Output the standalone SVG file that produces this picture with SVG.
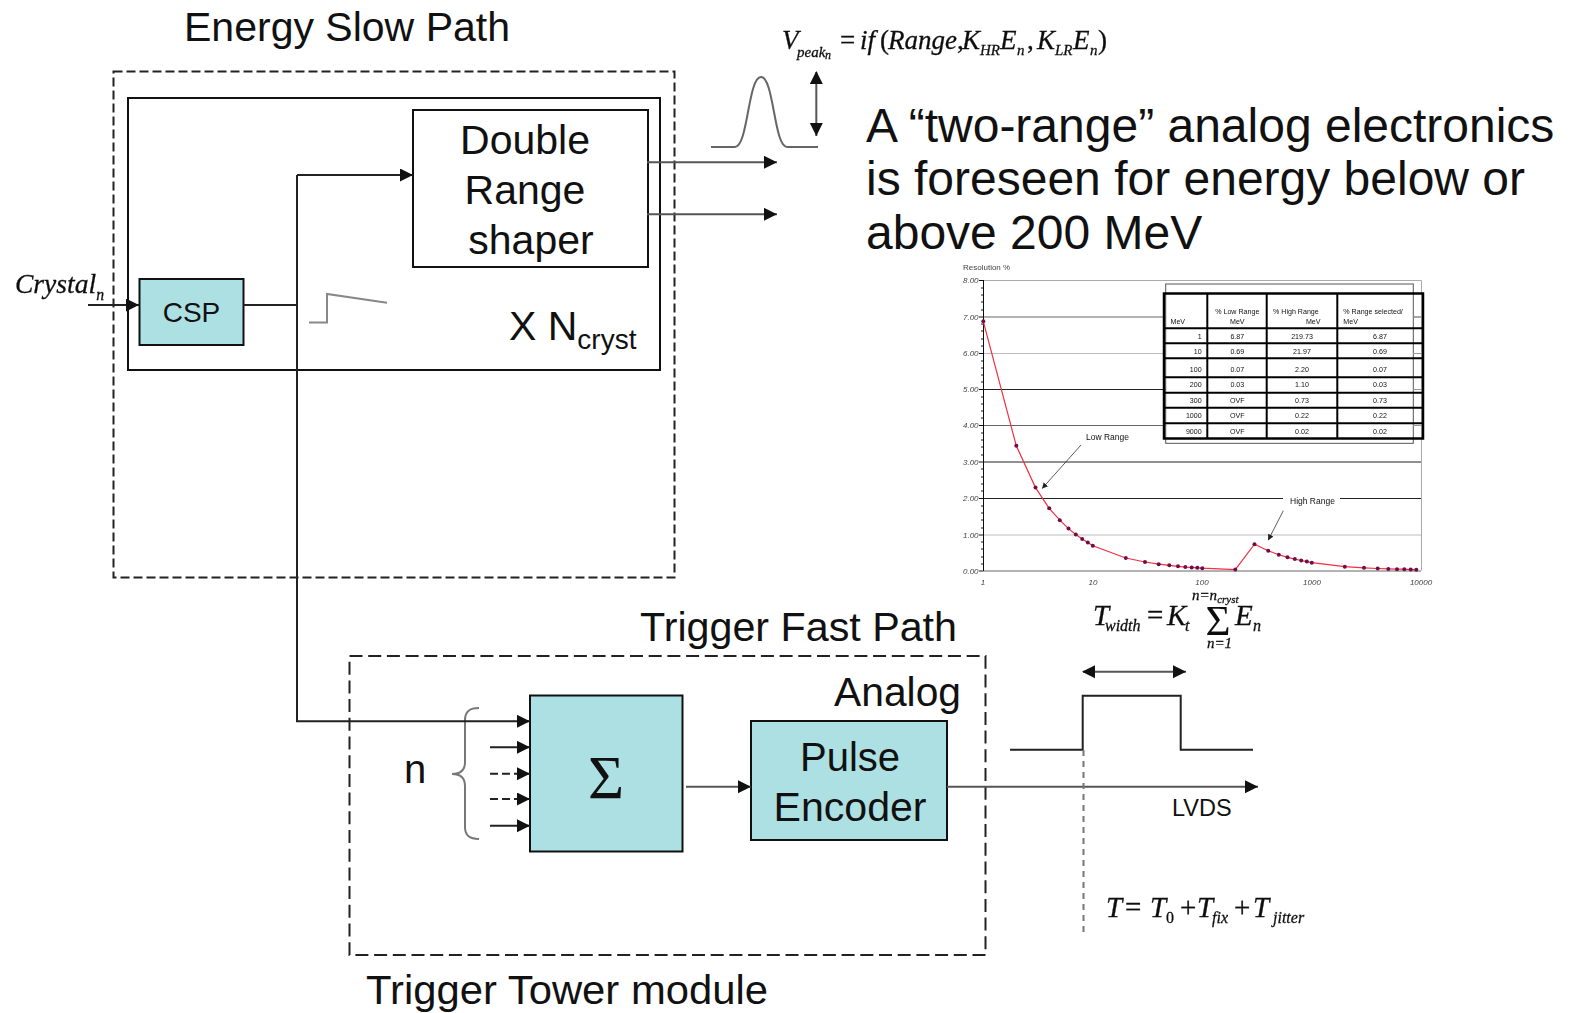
<svg xmlns="http://www.w3.org/2000/svg" width="1577" height="1013" viewBox="0 0 1577 1013">
<style>
text{font-family:"Liberation Sans",Arial,sans-serif;fill:#111}
.h{font-size:40px}
.m{font-family:"Liberation Serif","Times New Roman",serif;font-style:italic;stroke:#111;stroke-width:.3px}
.u{font-style:normal}
.box{fill:#ade0e3;stroke:#111;stroke-width:2}
.w{fill:none;stroke:#111;stroke-width:2}
.d{fill:none;stroke:#222;stroke-width:2;stroke-dasharray:9 4}
.d2{fill:none;stroke:#222;stroke-width:2;stroke-dasharray:13 5.700}
.ln{fill:none;stroke:#222;stroke-width:2}
.g{fill:none;stroke:#555;stroke-width:2}
.ar{marker-end:url(#a)}
.t{font-size:7.100px;fill:#111}
.c{text-anchor:middle}
.r{text-anchor:end}
.ax{font-size:8px;fill:#444;font-style:italic}
.tb{fill:none;stroke:#000;stroke-width:2}
</style>
<defs>
<marker id="a" markerWidth="14" markerHeight="14" refX="13" refY="6.500" orient="auto" markerUnits="userSpaceOnUse"><path d="M0 0L13 6.500L0 13z" fill="#111"/></marker>
<marker id="s" markerWidth="14" markerHeight="14" refX="1" refY="6.500" orient="auto" markerUnits="userSpaceOnUse"><path d="M13 0L0 6.500L13 13z" fill="#111"/></marker>
<marker id="p" markerWidth="5" markerHeight="5" refX="2.500" refY="2.500" markerUnits="userSpaceOnUse"><circle cx="2.500" cy="2.500" r="2" fill="#70104a"/></marker>
<marker id="q" markerWidth="6" markerHeight="6" refX="5.500" refY="3" orient="auto" markerUnits="userSpaceOnUse"><path d="M0 0L6 3L0 6z" fill="#222"/></marker>
<filter id="b" x="-2%" y="-2%" width="104%" height="104%"><feGaussianBlur stdDeviation="0.45"/></filter>
<filter id="f" x="-5%" y="-20%" width="110%" height="140%"><feGaussianBlur stdDeviation="0.5"/></filter>
</defs>

<g id="energy-slow-path">
<text class="h" x="184" y="41" textLength="326" lengthAdjust="spacingAndGlyphs">Energy Slow Path</text>
<rect class="d" x="113.500" y="71.500" width="561" height="506"/>
<rect class="w" x="128" y="98" width="532" height="272"/>
<text x="509" y="340" font-size="41">X N<tspan font-size="28" dy="9">cryst</tspan></text>
</g>

<g id="crystal-label" filter="url(#f)"><text class="m" x="15" y="293" font-size="28" textLength="89" lengthAdjust="spacingAndGlyphs">Crystal<tspan font-size="16" dy="7">n</tspan></text></g>
<g id="csp"><rect class="box" x="139.500" y="279" width="104" height="66"/><text x="191.500" y="322" font-size="28" class="c">CSP</text></g>
<g id="shaper"><rect class="w" x="413" y="110" width="235" height="157"/>
<text class="c" font-size="41"><tspan x="525" y="154">Double</tspan><tspan x="525" y="204">Range</tspan><tspan x="531" y="254">shaper</tspan></text></g>

<g id="step-signal"><path d="M309 322.500H327V294L387 302.700" fill="none" stroke="#888" stroke-width="2"/></g>
<g id="peak-signal"><path d="M711 147H735C748 147 748 77 761 77C774 77 774 147 787 147H818" fill="none" stroke="#666" stroke-width="2"/></g>
<g id="peak-formula" filter="url(#f)"><text class="m" y="49" font-size="27"><tspan x="782">V</tspan><tspan x="797" y="57" font-size="15">peak</tspan><tspan x="825" y="59" font-size="12">n</tspan><tspan class="u" x="840" y="49">=</tspan><tspan x="860" y="49">if</tspan><tspan class="u" x="880" y="49">(</tspan><tspan x="888" y="49">Range</tspan><tspan class="u" x="957" y="49">,</tspan><tspan x="962" y="49">K</tspan><tspan x="980" y="55" font-size="15">HR</tspan><tspan x="1000" y="49">E</tspan><tspan x="1017" y="55" font-size="15">n</tspan><tspan class="u" x="1027" y="49">,</tspan><tspan x="1037" y="49">K</tspan><tspan x="1055" y="55" font-size="15">LR</tspan><tspan x="1073" y="49">E</tspan><tspan x="1090" y="55" font-size="15">n</tspan><tspan class="u" x="1098" y="49">)</tspan></text></g>

<g id="description"><text font-size="48"><tspan x="866" y="141.500">A “two-range” analog electronics</tspan><tspan x="866" y="195">is foreseen for energy below or</tspan><tspan x="866" y="248.500">above 200 MeV</tspan></text></g>

<g id="resolution-chart" filter="url(#b)">
<text class="ax" x="963" y="270" style="font-style:normal">Resolution %</text>
<path d="M983.500 280.500H1421.500V570.500" fill="none" stroke="#aaa" stroke-width="1"/>
<path d="M983 317H1421" stroke="#999" stroke-width="1.500"/>
<path d="M983 353.500H1421M983 535H1421" stroke="#bbb" stroke-width="1"/>
<path d="M983 389.500H1421M983 462H1421M983 498.500H1421" stroke="#222" stroke-width="1"/>
<path d="M983 425.500H1421" stroke="#666" stroke-width="1"/>
<path d="M983 571H1421" stroke="#999" stroke-width="1.500"/>
<path d="M983.500 280V571M979 280.500H983M979 317H983M979 353.500H983M979 389.500H983M979 425.500H983M979 462H983M979 498.500H983M979 535H983M979 571H983M981 288H983M981 295H983M981 302H983M981 310H983M981 324H983M981 331H983M981 339H983M981 346H983M981 361H983M981 368H983M981 375H983M981 382H983M981 397H983M981 404H983M981 411H983M981 418H983M981 433H983M981 440H983M981 447H983M981 455H983M981 469H983M981 477H983M981 484H983M981 491H983M981 506H983M981 513H983M981 520H983M981 528H983M981 542H983M981 549H983M981 557H983M981 564H983" stroke="#111" stroke-width="1" fill="none"/>
<g class="ax"><text class="ax" x="963" y="283">8.00</text><text class="ax" x="963" y="320">7.00</text><text class="ax" x="963" y="356">6.00</text><text class="ax" x="963" y="392">5.00</text><text class="ax" x="963" y="428">4.00</text><text class="ax" x="963" y="465">3.00</text><text class="ax" x="963" y="501">2.00</text><text class="ax" x="963" y="538">1.00</text><text class="ax" x="963" y="574">0.00</text>
<text class="ax c" x="983" y="585">1</text><text class="ax c" x="1093" y="585">10</text><text class="ax c" x="1202" y="585">100</text><text class="ax c" x="1312" y="585">1000</text><text class="ax c" x="1421" y="585">10000</text></g>
<polyline fill="none" stroke="#f03040" stroke-width="1.200" marker-start="url(#p)" marker-mid="url(#p)" marker-end="url(#p)" points="983.300,321.300 1016.300,445.800 1035.500,487.600 1049.200,508.300 1059.800,520.200 1068.500,528.600 1075.800,534.400 1082.200,539.100 1087.800,542.400 1092.800,545.700 1125.800,558 1145,562 1158.700,564.200 1169.300,565.300 1178,566.300 1185.300,567.100 1191.700,567.400 1197.300,567.800 1202.300,568.200 1235.300,569.600 1254.500,544.200 1268.200,550.700 1278.800,554.700 1287.500,557.300 1294.800,559.100 1301.200,560.500 1306.800,561.600 1311.800,562.700 1344.800,566.700 1364,567.800 1377.700,568.500 1388.300,568.900 1397,569.200 1404.300,569.200 1410.700,569.600 1416.300,569.700"/>
<rect x="1283" y="495" width="57" height="7" fill="#fff"/>
<text x="1086" y="440" font-size="8.500" fill="#222">Low Range</text>
<text x="1290" y="504" font-size="8.500" fill="#222">High Range</text>
<path d="M1081 445L1042.300 488.300" fill="none" stroke="#333" stroke-width="0.800" marker-end="url(#q)"/>
<path d="M1283.300 510.700L1268.300 540" fill="none" stroke="#333" stroke-width="0.800" marker-end="url(#q)"/>
<rect x="1165.700" y="284" width="247.600" height="159.300" fill="#fff" stroke="#555" stroke-width="1"/>
<path d="M1413 317H1421M1413 353.500H1421M1413 389.500H1421M1413 425.500H1421" stroke="#999" stroke-width="1"/>
<rect class="tb" x="1164" y="293.500" width="259" height="145" style="stroke-width:2.500"/>
<path class="tb" d="M1207.300 293V438M1266.700 293V438M1337.300 293V438M1164 328.300H1423M1164 343.300H1423M1164 358.300H1423M1164 377.300H1423M1164 392.700H1423M1164 407.700H1423M1164 423.300H1423"/>
<text class="t" x="1170.500" y="324">MeV</text>
<text class="t c" x="1237.300" y="313.500">% Low Range</text><text class="t c" x="1237.300" y="323.500">MeV</text>
<text class="t" x="1273" y="313.500">% High Range</text><text class="t r" x="1320.500" y="323.500">MeV</text>
<text class="t" x="1343.300" y="313.500">% Range selected/</text><text class="t" x="1343.300" y="323.500">MeV</text>
<text class="t r" x="1201.700" y="338.500">1</text><text class="t c" x="1237.300" y="338.500">6.87</text><text class="t c" x="1302" y="338.500">219.73</text><text class="t c" x="1380" y="338.500">6.87</text>
<text class="t r" x="1201.700" y="353.700">10</text><text class="t c" x="1237.300" y="353.700">0.69</text><text class="t c" x="1302" y="353.700">21.97</text><text class="t c" x="1380" y="353.700">0.69</text>
<text class="t r" x="1201.700" y="371.700">100</text><text class="t c" x="1237.300" y="371.700">0.07</text><text class="t c" x="1302" y="371.700">2.20</text><text class="t c" x="1380" y="371.700">0.07</text>
<text class="t r" x="1201.700" y="386.700">200</text><text class="t c" x="1237.300" y="386.700">0.03</text><text class="t c" x="1302" y="386.700">1.10</text><text class="t c" x="1380" y="386.700">0.03</text>
<text class="t r" x="1201.700" y="403">300</text><text class="t c" x="1237.300" y="403">OVF</text><text class="t c" x="1302" y="403">0.73</text><text class="t c" x="1380" y="403">0.73</text>
<text class="t r" x="1201.700" y="418">1000</text><text class="t c" x="1237.300" y="418">OVF</text><text class="t c" x="1302" y="418">0.22</text><text class="t c" x="1380" y="418">0.22</text>
<text class="t r" x="1201.700" y="434">9000</text><text class="t c" x="1237.300" y="434">OVF</text><text class="t c" x="1302" y="434">0.02</text><text class="t c" x="1380" y="434">0.02</text>
</g>

<g id="trigger-fast-path">
<text class="h" x="640" y="641" textLength="317" lengthAdjust="spacingAndGlyphs">Trigger Fast Path</text>
<rect class="d2" x="349.500" y="656" width="636" height="299"/>
<text class="h" x="834" y="706" textLength="127" lengthAdjust="spacingAndGlyphs">Analog</text>
<text class="h" x="366" y="1004" textLength="402" lengthAdjust="spacingAndGlyphs">Trigger Tower module</text>
</g>

<g id="n-brace"><text class="h" x="404" y="783">n</text>
<path d="M479 708C470 708 465 711 465 720V762C465 770 460 774 452 774C460 774 465 778 465 786V827C465 836 470 839 479 839" fill="none" stroke="#777" stroke-width="2"/></g>
<g id="sum"><rect class="box" x="530" y="695.500" width="152.500" height="156"/><text x="606" y="798" font-size="62" class="c" style="font-family:'Liberation Serif',serif">Σ</text></g>
<g id="pulse-encoder"><rect class="box" x="751" y="721" width="196" height="119"/>
<text class="c h"><tspan x="850" y="771">Pulse</tspan></text><text class="h" x="773.500" y="821" textLength="153" lengthAdjust="spacingAndGlyphs">Encoder</text></g>

<g id="pulse-width"><path d="M1010 749.700H1082.700V695.700H1180.700V749.700H1253" fill="none" stroke="#222" stroke-width="2"/></g>
<g id="width-formula" filter="url(#f)">
<text class="m" y="625" font-size="29"><tspan x="1093">T</tspan><tspan x="1105" y="631" font-size="16">width</tspan><tspan class="u" x="1147" y="625">=</tspan><tspan x="1167" y="625">K</tspan><tspan x="1185" y="631" font-size="16">t</tspan></text>
<text x="1218" y="635" font-size="43" class="c" style="font-family:'Liberation Serif',serif">Σ</text>
<text class="m" y="625" font-size="29"><tspan x="1235">E</tspan><tspan x="1253" y="631" font-size="16">n</tspan></text>
<text class="m" x="1192" y="600" font-size="15">n=n<tspan font-size="11" dy="3">cryst</tspan></text>
<text class="m" x="1207" y="648" font-size="15">n=1</text>
</g>
<g id="time-formula" filter="url(#f)"><text class="m" y="917" font-size="29"><tspan x="1106">T</tspan><tspan class="u" x="1125">=</tspan><tspan x="1150">T</tspan><tspan class="u" x="1166" y="923" font-size="16">0</tspan><tspan class="u" x="1180" y="917">+</tspan><tspan x="1197">T</tspan><tspan x="1212" y="923" font-size="16">fix</tspan><tspan class="u" x="1234" y="917">+</tspan><tspan x="1253">T</tspan><tspan x="1273" y="923" font-size="16">jitter</tspan></text></g>
<g id="lvds-label"><text x="1172" y="816" font-size="23.500">LVDS</text></g>

<g id="connectors">
<path class="ln ar" d="M88 305H139"/>
<path class="ln" d="M243.500 305H297"/>
<path class="ln ar" d="M297 175H413"/>
<path class="ln ar" d="M297 175V721.300H530"/>
<path class="g ar" d="M647 162.300H777"/>
<path class="g ar" d="M647 214.300H777"/>
<path class="g" d="M816.300 72V136" marker-start="url(#s)" marker-end="url(#a)"/>
<path class="ln ar" d="M490 747.300H530"/>
<path class="ln ar" d="M490 773.700H530" stroke-dasharray="8 4"/>
<path class="ln ar" d="M490 799H530" stroke-dasharray="8 4"/>
<path class="ln ar" d="M490 825.700H530"/>
<path class="g ar" d="M686 786.700H751"/>
<path class="g ar" d="M947 786.700H1258"/>
<path class="g" d="M1083 671.700H1186" marker-start="url(#s)" marker-end="url(#a)"/>
<path d="M1083.500 750V932" fill="none" stroke="#777" stroke-width="2" stroke-dasharray="6 5"/>
</g>
</svg>
